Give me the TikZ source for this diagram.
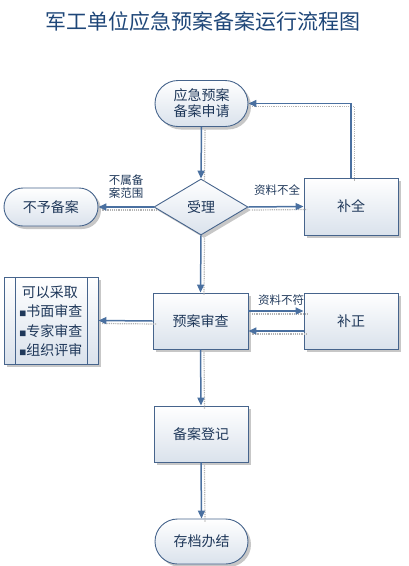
\documentclass[tikz,border=0pt]{standalone}
\usepackage{fontspec}
\newfontfamily\cjk{Noto Sans CJK SC}
\usetikzlibrary{shapes.geometric,shadows,arrows.meta}
\definecolor{edge}{RGB}{70,100,140}
\definecolor{conncol}{RGB}{74,112,160}
\definecolor{txt}{RGB}{31,56,90}
\definecolor{fillb}{RGB}{218,226,236}
\definecolor{titlec}{RGB}{30,70,120}
\tikzset{
  shade box/.style={draw=edge, line width=0.9pt, top color=white, bottom color=fillb,
    inner sep=0pt, text=txt, font=\cjk\fontsize{14}{16}\selectfont,
    drop shadow={shadow xshift=3pt, shadow yshift=-3pt, fill=gray!55, opacity=0.8}},
  term/.style={shade box, rounded corners=#1},
  procbox/.style={shade box},
  decision/.style={shade box, diamond},
  conn/.style={draw=conncol, line width=1.5pt, -{Triangle[length=8pt,width=7pt]}},
  connshadow/.style={draw=gray!60, line width=1.2pt, densely dotted},
  lbl/.style={text=txt, font=\cjk\fontsize{11.5}{13}\selectfont, inner sep=1pt}
}
\newcommand\myconnectors[1]{%
\draw[#1] (start.south) -- (accept.north);
\draw[#1] (accept.east) -- (bq.west);
\draw[#1] (bq.north) |- (start.east);
\draw[#1] (accept.west) -- (reject.east);
\draw[#1] (accept.south) -- (review.north);
\draw[#1] ([yshift=10pt]review.east) -- ([yshift=10pt]bz.west);
\draw[#1] ([yshift=-10pt]bz.west) -- ([yshift=-10pt]review.east);
\draw[#1] (review.west) -- (list.east);
\draw[#1] (review.south) -- (reg.north);
\draw[#1] (reg.south) -- (arch.north);}
\begin{document}
\begin{tikzpicture}[x=1pt,y=-1pt]
\useasboundingbox (0,0) rectangle (409,566);
% title
\node[text=titlec, font=\cjk\fontsize{21}{24}\selectfont] (title) at (203,22) {军工单位应急预案备案运行流程图};
% nodes
\node[term=23pt, minimum width=93pt, minimum height=46pt, align=center] (start) at (201.5,103.5) {应急预案\\备案申请};
\node[decision, minimum width=94pt, minimum height=56pt] (accept) at (201,207) {受理};
\node[procbox, minimum width=94pt, minimum height=57pt] (bq) at (351,206.5) {补全};
\node[term=19pt, minimum width=94pt, minimum height=38pt] (reject) at (51,207) {不予备案};
\node[procbox, minimum width=95pt, minimum height=56pt] (review) at (200.5,321) {预案审查};
\node[procbox, minimum width=94pt, minimum height=56pt] (bz) at (351,321) {补正};
\node[procbox, minimum width=94pt, minimum height=87pt] (list) at (51,320.5) {};
\draw[edge, line width=0.9pt] (15,277) -- (15,364) (87,277) -- (87,364);
\node[text=txt, font=\cjk\fontsize{14}{19.5}\selectfont, align=left, inner sep=0pt] (listtext) at (51,321)
  {\,可以采取\\{\fontsize{7}{8}\selectfont ■}书面审查\\{\fontsize{7}{8}\selectfont ■}专家审查\\{\fontsize{7}{8}\selectfont ■}组织评审};
\node[procbox, minimum width=94pt, minimum height=56pt] (reg) at (201,434) {备案登记};
\node[term=22.5pt, minimum width=93pt, minimum height=45pt] (arch) at (201.5,541.5) {存档办结};
% connector shadows
\begin{scope}[transform canvas={shift={(3.5pt,-3pt)}}]
\myconnectors{connshadow}
\end{scope}
% connectors
\myconnectors{conn}
% labels
\node[lbl] (l1) at (277,190) {资料不全};
\node[lbl, align=center] (l2) at (126,187) {不属备\\案范围};
\node[lbl] (l3) at (281,300) {资料不符};
\end{tikzpicture}
\end{document}
